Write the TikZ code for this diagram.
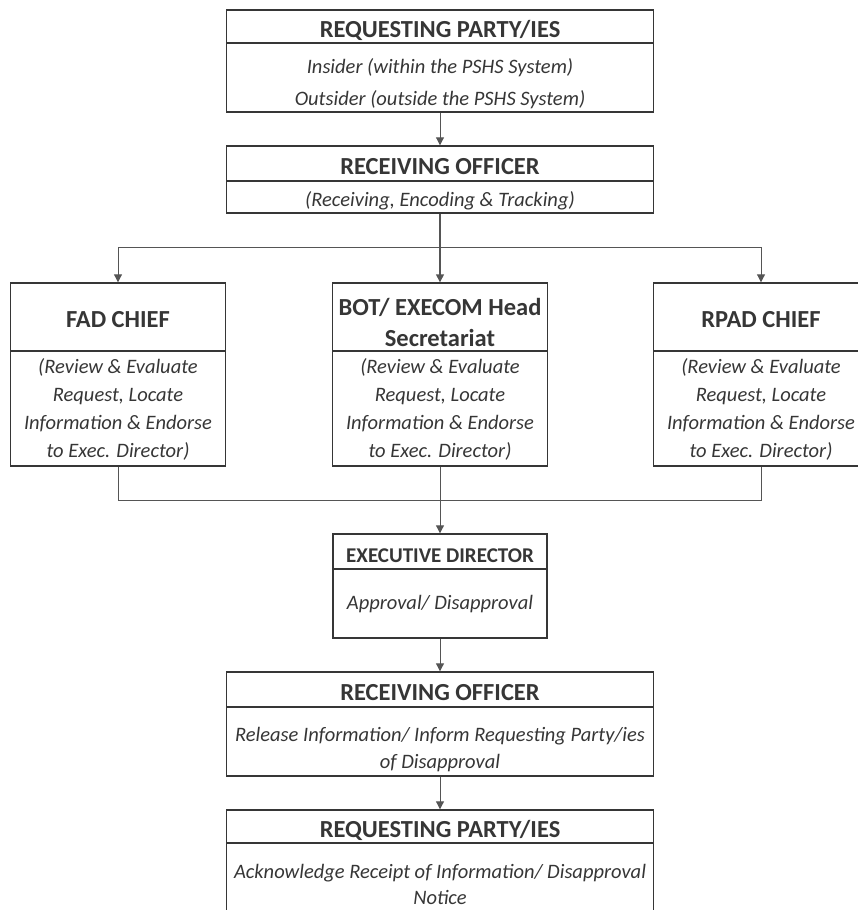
\documentclass[tikz,border=0pt]{standalone}
\usepackage{fontspec}
\setmainfont{Carlito}
\usetikzlibrary{arrows.meta}

\definecolor{inkgray}{HTML}{363636}
\definecolor{linegray}{HTML}{555555}

\tikzset{
  head/.style={draw=inkgray,line width=1.4pt,inner sep=0pt,align=center,text=inkgray,
    text height=27pt,text depth=6pt,font=\bfseries\fontsize{24.5}{31}\selectfont},
  body/.style={draw=inkgray,line width=1.4pt,inner sep=0pt,align=center,text=inkgray,
    font=\itshape\fontsize{20.5}{27.7}\selectfont},
  conn/.style={draw=linegray,line width=1pt,-{Triangle[width=8pt,length=8pt]}},
  wire/.style={draw=linegray,line width=1pt},
  fad-tune/.style={},
  rpad-tune/.style={},
  bot-tune/.style={text height=63pt,text depth=5pt}
}

\begin{document}
\begin{tikzpicture}[x=1pt,y=-1pt]

\useasboundingbox (0,0) rectangle (858,910);
\clip (0,0) rectangle (858,910);

% top: requesting party and receiving officer
\node[head,minimum width=427pt,minimum height=33pt] (rq1-h) at (440,26.5) {REQUESTING PARTY/IES};
\node[body,minimum width=427pt,minimum height=69pt,text height=62pt,text depth=7pt,
  font=\itshape\fontsize{20.5}{32}\selectfont] (rq1-b) at (440,77.5)
  {Insider (within the PSHS System)\\Outsider (outside the PSHS System)};

\node[head,minimum width=427pt,minimum height=35pt] (ro1-h) at (440,163.5) {RECEIVING OFFICER};
\node[body,minimum width=427pt,minimum height=32pt,text height=25pt,text depth=7pt] (ro1-b) at (440,197)
  {(Receiving, Encoding \& Tracking)};

% the three offices in the middle row
\foreach \name/\cx/\title in {fad/118/FAD CHIEF,bot/440/{BOT/ EXECOM Head\\Secretariat},rpad/761/RPAD CHIEF}{%
  \node[head,\name-tune,minimum width=215pt,minimum height=68pt] (\name-h) at (\cx,317) {\title};
  \node[body,minimum width=215pt,minimum height=115pt,text height=106pt,text depth=9pt] (\name-b) at (\cx,408.5)
    {(Review \& Evaluate\\Request, Locate\\Information \& Endorse\\to Exec. Director)};}

% lower part
\node[head,minimum width=214pt,minimum height=35pt,font=\bfseries\fontsize{21}{26}\selectfont] (exe-h) at (440,551.5)
  {EXECUTIVE DIRECTOR};
\node[body,minimum width=214pt,minimum height=69pt,text height=40pt,text depth=29pt] (exe-b) at (440,603.5)
  {Approval/ Disapproval};

\node[head,minimum width=427pt,minimum height=35pt] (ro2-h) at (440,689.5) {RECEIVING OFFICER};
\node[body,minimum width=427pt,minimum height=69pt,text height=61pt,text depth=8pt,
  font=\itshape\fontsize{20.5}{27}\selectfont] (ro2-b) at (440,741.5)
  {Release Information/ Inform Requesting Party/ies\\of Disapproval};

\node[head,minimum width=427pt,minimum height=33pt] (rp2-h) at (440,826.5) {REQUESTING PARTY/IES};
\node[body,minimum width=427pt,minimum height=97pt,text height=61pt,text depth=36pt,
  font=\itshape\fontsize{20.5}{26}\selectfont] (rp2-b) at (440,891.5)
  {Acknowledge Receipt of Information/ Disapproval\\Notice};

% connectors
\coordinate (split) at (440,247);
\coordinate (join) at (440,500);

\draw[conn] (rq1-b) -- (ro1-h);
\draw[wire,line width=1.4pt] (ro1-b) -- (split);
\draw[conn] (split) -| (fad-h.north);
\draw[conn] (split) -| (rpad-h.north);
\draw[conn,line width=1.4pt] (split) -- (bot-h.north);

\draw[wire] (fad-b) |- (join);
\draw[wire] (rpad-b) |- (join);
\draw[wire] (bot-b) -- (join);
\draw[conn] (join) -- (exe-h);

\draw[conn] (exe-b) -- (ro2-h);
\draw[conn] (ro2-b) -- (rp2-h);

\end{tikzpicture}
\end{document}
